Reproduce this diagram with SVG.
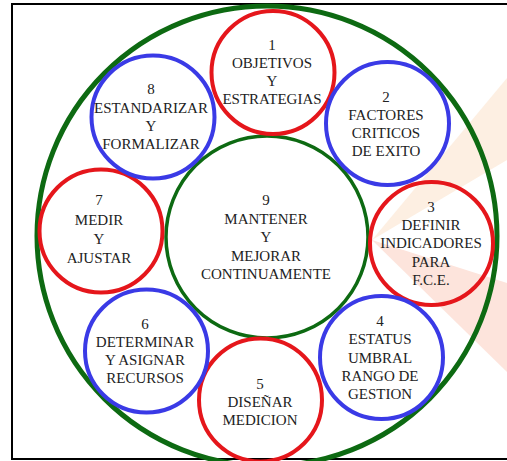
<svg xmlns="http://www.w3.org/2000/svg" width="507" height="461" viewBox="0 0 507 461">
<style>
text{font-family:"Liberation Serif","Times New Roman",serif;font-size:15px;fill:#222;text-anchor:middle}
.r{fill:none;stroke:#e5161b;stroke-width:4}
.b{fill:none;stroke:#3a3ae6;stroke-width:4}
.g{fill:none;stroke:#0d6a12}
</style>
<rect x="0" y="0" width="507" height="461" fill="#fff"/>
<rect x="12" y="4" width="505" height="455" fill="none" stroke="#000" stroke-width="2"/>
<g id="watermark">
<polygon points="372,240 507,78 507,160" fill="#fdefe2"/>
<polygon points="372,240 507,283 507,372" fill="#fde4dc"/>
</g>
<g id="outer"><circle class="g" cx="267" cy="236" r="230" stroke-width="5"/></g>
<g id="n9"><circle class="g" cx="267" cy="237" r="101" stroke-width="3.5"/>
<text x="266" y="205">9</text><text x="266" y="224">MANTENER</text><text x="266" y="242">Y</text><text x="266" y="261">MEJORAR</text><text x="266" y="279">CONTINUAMENTE</text></g>
<g id="n1"><circle class="r" cx="273" cy="72.5" r="61.5"/>
<text x="272" y="50">1</text><text x="272" y="68">OBJETIVOS</text><text x="272" y="86">Y</text><text x="272" y="104">ESTRATEGIAS</text></g>
<g id="n2"><circle class="b" cx="387.5" cy="123.5" r="61.5"/>
<text x="386" y="102">2</text><text x="386" y="120">FACTORES</text><text x="386" y="138">CRITICOS</text><text x="386" y="156">DE EXITO</text></g>
<g id="n3"><circle class="r" cx="431.5" cy="243.5" r="61.5"/>
<text x="431" y="212">3</text><text x="431" y="230">DEFINIR</text><text x="431" y="248">INDICADORES</text><text x="431" y="267">PARA</text><text x="431" y="285">F.C.E.</text></g>
<g id="n4"><circle class="b" cx="381.5" cy="357.5" r="61.5"/>
<text x="380" y="326">4</text><text x="380" y="344">ESTATUS</text><text x="380" y="363">UMBRAL</text><text x="380" y="381">RANGO DE</text><text x="380" y="399">GESTION</text></g>
<g id="n5"><circle class="r" cx="260.5" cy="400" r="61.5"/>
<text x="260" y="389">5</text><text x="260" y="407">DISEÑAR</text><text x="260" y="425">MEDICION</text></g>
<g id="n6"><circle class="b" cx="146.5" cy="351" r="61.5"/>
<text x="145" y="329">6</text><text x="145" y="347">DETERMINAR</text><text x="145" y="365">Y ASIGNAR</text><text x="145" y="383">RECURSOS</text></g>
<g id="n7"><circle class="r" cx="101" cy="231" r="61.5"/>
<text x="99" y="205">7</text><text x="99" y="225">MEDIR</text><text x="99" y="244">Y</text><text x="99" y="263">AJUSTAR</text></g>
<g id="n8"><circle class="b" cx="153" cy="117" r="61.5"/>
<text x="151" y="94">8</text><text x="151" y="113">ESTANDARIZAR</text><text x="151" y="131">Y</text><text x="151" y="149">FORMALIZAR</text></g>
<g id="connectors"></g>
</svg>
